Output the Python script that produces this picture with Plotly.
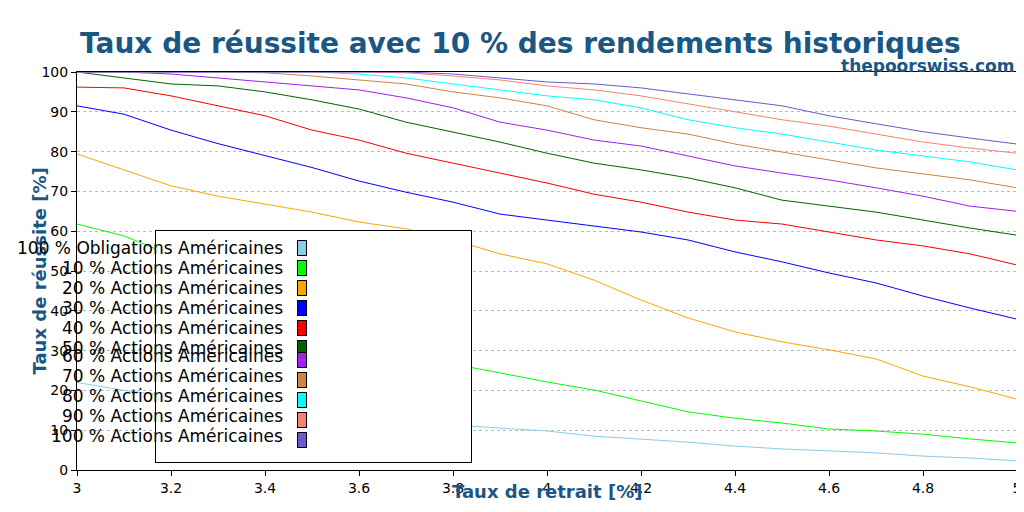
import plotly.graph_objects as go

x = [3.0, 3.1, 3.2, 3.3, 3.4, 3.5, 3.6, 3.7, 3.8, 3.9, 4.0,
     4.1, 4.2, 4.3, 4.4, 4.5, 4.6, 4.7, 4.8, 4.9, 5.0]

bonds_0 = [22, 20, 18.5, 17, 15.5, 13.8, 13, 12.3, 11.3, 10.6, 9.8,
           8.5, 7.8, 7, 6, 5.3, 4.8, 4.3, 3.5, 3, 2.3]
stocks_10 = [61.8, 58.8, 54, 49, 44, 39.4, 35, 30, 26.6, 24.4, 22.1,
             20.1, 17.3, 14.6, 13, 11.8, 10.3, 9.8, 9, 7.8, 6.8]
stocks_20 = [79.4, 75.4, 71.4, 68.8, 66.8, 64.8, 62.3, 60.6, 57.8, 54.3, 51.8,
             47.7, 42.7, 38.2, 34.7, 32.2, 30.2, 27.9, 23.6, 20.9, 17.8]
stocks_30 = [91.5, 89.4, 85.4, 82, 79, 76, 72.6, 69.8, 67.3, 64.3, 62.8,
             61.3, 59.8, 57.8, 54.8, 52.3, 49.5, 47, 43.7, 40.7, 37.9]
stocks_40 = [96.2, 96, 94, 91.5, 89, 85.4, 82.9, 79.6, 77.1, 74.6, 72.1,
             69.3, 67.3, 64.8, 62.8, 61.8, 59.8, 57.8, 56.3, 54.3, 51.5]
stocks_50 = [100, 98.5, 97, 96.5, 95, 93, 90.7, 87.4, 84.9, 82.4, 79.6,
             77.1, 75.4, 73.4, 70.9, 67.8, 66.3, 64.8, 62.8, 60.8, 59]
stocks_60 = [100, 100, 99.5, 98.5, 97.5, 96.5, 95.5, 93.5, 91, 87.4, 85.4,
             82.9, 81.4, 78.9, 76.4, 74.6, 72.9, 70.9, 68.8, 66.3, 65]
stocks_70 = [100, 100, 100, 100, 99.8, 99, 98, 97, 95, 93.5, 91.5,
             88, 86, 84.4, 81.9, 79.9, 77.9, 75.9, 74.4, 72.9, 70.9]
stocks_80 = [100, 100, 100, 100, 100, 100, 99.5, 98.5, 97, 95.5, 94,
             93, 91, 88, 86, 84.4, 82.4, 80.4, 78.9, 77.4, 75.4]
stocks_90 = [100, 100, 100, 100, 100, 100, 100, 99.8, 99, 98, 96.5,
             95.5, 94, 92, 90, 88, 86.4, 84.4, 82.4, 80.9, 79.6]
stocks_100 = [100, 100, 100, 100, 100, 100, 100, 100, 99.5, 98.5, 97.5,
              97, 96, 94.5, 93, 91.5, 89, 87, 85, 83.4, 81.9]

names = ['100 % Obligations Américaines'] + [f'{p} % Actions Américaines' for p in range(10, 101, 10)]
series = [bonds_0, stocks_10, stocks_20, stocks_30, stocks_40, stocks_50,
          stocks_60, stocks_70, stocks_80, stocks_90, stocks_100]
colors = ['skyblue', 'lime', 'orange', 'blue', 'red', 'darkgreen',
          '#a020f0', 'peru', 'cyan', 'salmon', 'slateblue']

TITLE_BLUE = '#1a5784'
W, H = 1024, 512


# paper coords == pixel coords (margins are zero)
def px(xp):
    return xp / W


def py(yp):
    return (H - yp) / H


fig = go.Figure()
for name, ys, c in zip(names, series, colors):
    fig.add_trace(go.Scatter(x=x, y=ys, name=name, mode='lines',
                             line=dict(color=c, width=1), showlegend=False))

annotations = [
    dict(text='<b>Taux de réussite avec 10 % des rendements historiques</b>',
         xref='paper', yref='paper', x=px(512), y=py(17), showarrow=False,
         font=dict(size=28, color=TITLE_BLUE)),
    dict(text='<b>thepoorswiss.com</b>', xref='paper', yref='paper',
         x=px(1009), y=py(46), xanchor='right', showarrow=False,
         font=dict(size=17, color=TITLE_BLUE)),
    dict(text='<b>Taux de retrait [%]</b>', xref='paper', yref='paper',
         x=px(539), y=py(496), showarrow=False,
         font=dict(size=18, color=TITLE_BLUE)),
    dict(text='<b>Taux de réussite [%]</b>', xref='paper', yref='paper',
         x=px(18), y=py(263), textangle=-90, showarrow=False,
         font=dict(size=18, color=TITLE_BLUE)),
    # legend box
    dict(text=' ', xref='paper', yref='paper', x=px(147), y=py(338.5),
         width=313, height=229, bgcolor='white', bordercolor='black',
         borderwidth=1, borderpad=1, showarrow=False),
]
for i, (name, c) in enumerate(zip(names, colors)):
    yrow = 240 + 20 * i
    annotations.append(dict(text=name, xref='paper', yref='paper',
                            x=px(277), y=py(yrow), xanchor='right',
                            showarrow=False, font=dict(size=17, color='black')))
    annotations.append(dict(text=' ', xref='paper', yref='paper',
                            x=px(289), y=py(yrow), width=8, height=14,
                            bgcolor=c, bordercolor='black', borderwidth=1,
                            borderpad=0, showarrow=False, font=dict(size=6)))

fig.update_layout(
    width=W, height=H,
    margin=dict(l=0, r=0, t=0, b=0),
    plot_bgcolor='white', paper_bgcolor='white',
    font=dict(family='DejaVu Sans', size=14, color='black'),
    annotations=annotations,
    xaxis=dict(domain=[69 / W, 1009 / W], automargin=False, range=[3, 5],
               tickvals=[3, 3.2, 3.4, 3.6, 3.8, 4, 4.2, 4.4, 4.6, 4.8, 5],
               ticktext=['3', '3.2', '3.4', '3.6', '3.8', '4', '4.2', '4.4', '4.6', '4.8', '5'],
               showgrid=False, zeroline=False, showline=True, linecolor='black',
               mirror=True, ticks='outside', ticklen=5, tickcolor='black'),
    yaxis=dict(domain=[50 / H, 448 / H], automargin=False, range=[0, 100], dtick=10,
               showgrid=True, gridcolor='#bbbbbb',
               griddash='dot', zeroline=False, showline=True, linecolor='black',
               mirror=True, ticks='outside', ticklen=5, tickcolor='black'),
)

fig.write_html('out.html')
